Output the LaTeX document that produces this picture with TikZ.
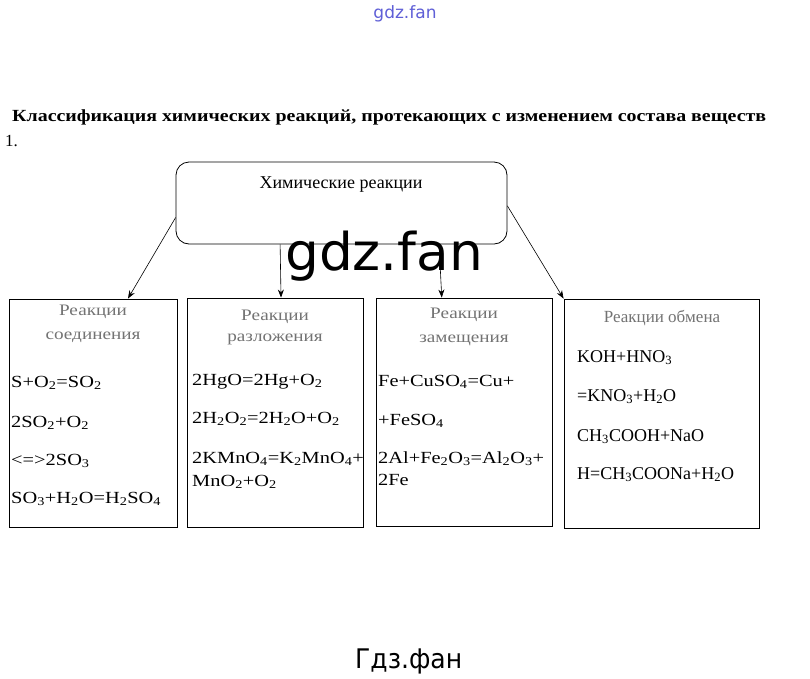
\documentclass[tikz,border=0pt]{standalone}
\usepackage{fontspec}
\setmainfont{Liberation Serif}
\newfontfamily\wideserif[FakeStretch=1.2]{Liberation Serif}
\newfontfamily\wmfont{DejaVu Sans}
\usetikzlibrary{arrows.meta}
\newcommand\chs[1]{\textsubscript{#1}}
\newsavebox\fitbox
\newcommand\fitw[2]{\sbox\fitbox{#2}\pgfmathsetmacro\fitfac{#1/\the\wd\fitbox}\scalebox{\fitfac}[1]{\usebox\fitbox}}
\definecolor{wmblue}{RGB}{95,95,215}
\tikzset{
  box/.style={draw=black, line width=0.9pt, inner sep=0pt, fill=none},
  topbox/.style={draw=black, line width=0.8pt, rounded corners=13pt, inner sep=0pt},
  arr/.style={line width=0.6pt, -{Stealth[length=8pt,width=6pt]}},
  fl/.style={anchor=base west, inner sep=0pt, font=\wideserif\fontsize{17}{20}\selectfont},
  flr/.style={anchor=base west, inner sep=0pt, font=\fontsize{18}{21}\selectfont},
  hd/.style={anchor=base, inner sep=0pt, text=black!55, font=\wideserif\fontsize{16}{19}\selectfont},
  hdr/.style={anchor=base, inner sep=0pt, text=black!55, font=\fontsize{17}{20}\selectfont},
  wmtext/.style={anchor=base west, inner sep=0pt}
}
\begin{document}
\begin{tikzpicture}[x=1pt,y=-1pt]
\useasboundingbox[fill=white] (0,0) rectangle (810,678);

% title
\node[anchor=base west, inner sep=0pt] (title) at (12,121)
  {\fitw{754}{\fontsize{17}{20}\selectfont\bfseries Классификация химических реакций, протекающих с изменением состава веществ}};
\node[anchor=base west, inner sep=0pt, font=\fontsize{17}{20}\selectfont] (num) at (5,146) {1.};

% top box
\node[topbox, minimum width=331pt, minimum height=82pt] (top) at (341.5,203) {};
\node[anchor=base, inner sep=0pt, font=\fontsize{18}{21}\selectfont] (toptext) at (341,188) {Химические реакции};

% boxes
\node[box, minimum width=168pt, minimum height=228pt] (b1) at (93,413) {};
\node[box, minimum width=176pt, minimum height=229pt] (b2) at (275,412.5) {};
\node[box, minimum width=176pt, minimum height=228pt] (b3) at (464,412) {};
\node[box, minimum width=195pt, minimum height=229pt] (b4) at (661.5,413.5) {};

% arrows
\draw[arr] (top.185) -- (b1.73);
\draw[arr] (top.214.1) -- (b2.87);
\draw[arr] (top.337.4) -- (b3.101.9);
\draw[arr] (top.359) -- (b4.north west);

% box 1
\node[hd] (h1a) at (93,315) {Реакции};
\node[hd] (h1b) at (93,339) {соединения};
\node[fl] (f11) at (11,387) {S+O\chs{2}=SO\chs{2}};
\node[fl] (f12) at (11,427) {2SO\chs{2}+O\chs{2}};
\node[fl] (f13) at (11,465) {<=>2SO\chs{3}};
\node[fl] (f14) at (11,503) {SO\chs{3}+H\chs{2}O=H\chs{2}SO\chs{4}};

% box 2
\node[hd] (h2a) at (275,320) {Реакции};
\node[hd] (h2b) at (275,341) {разложения};
\node[fl] (f21) at (192,385) {2HgO=2Hg+O\chs{2}};
\node[fl] (f22) at (192,423) {2H\chs{2}O\chs{2}=2H\chs{2}O+O\chs{2}};
\node[fl] (f23) at (192,463) {2KMnO\chs{4}=K\chs{2}MnO\chs{4}+};
\node[fl] (f24) at (192,486) {MnO\chs{2}+O\chs{2}};

% box 3
\node[hd] (h3a) at (464,318) {Реакции};
\node[hd] (h3b) at (464,342) {замещения};
\node[fl] (f31) at (378,386) {Fe+CuSO\chs{4}=Cu+};
\node[fl] (f32) at (378,425) {+FeSO\chs{4}};
\node[fl] (f33) at (378,463) {2Al+Fe\chs{2}O\chs{3}=Al\chs{2}O\chs{3}+};
\node[fl] (f34) at (378,485) {2Fe};

% box 4
\node[hdr] (h4) at (662,322) {Реакции обмена};
\node[flr] (f41) at (577,362) {KOH+HNO\chs{3}};
\node[flr] (f42) at (577,401) {=KNO\chs{3}+H\chs{2}O};
\node[flr] (f43) at (577,441) {CH\chs{3}COOH+NaO};
\node[flr] (f44) at (577,479) {H=CH\chs{3}COONa+H\chs{2}O};

% watermarks
\node[anchor=base, inner sep=0pt, text=wmblue, font=\wmfont\fontsize{17}{20}\selectfont] (wm1) at (405,18) {gdz.fan};
\node[wmtext] (wm2) at (285,270) {\fitw{198}{\wmfont\fontsize{52}{56}\selectfont gdz.fan}};
\node[wmtext] (wm3) at (355,668) {\fitw{107}{\wmfont\fontsize{27}{30}\selectfont Гдз.фан}};
\end{tikzpicture}
\end{document}
